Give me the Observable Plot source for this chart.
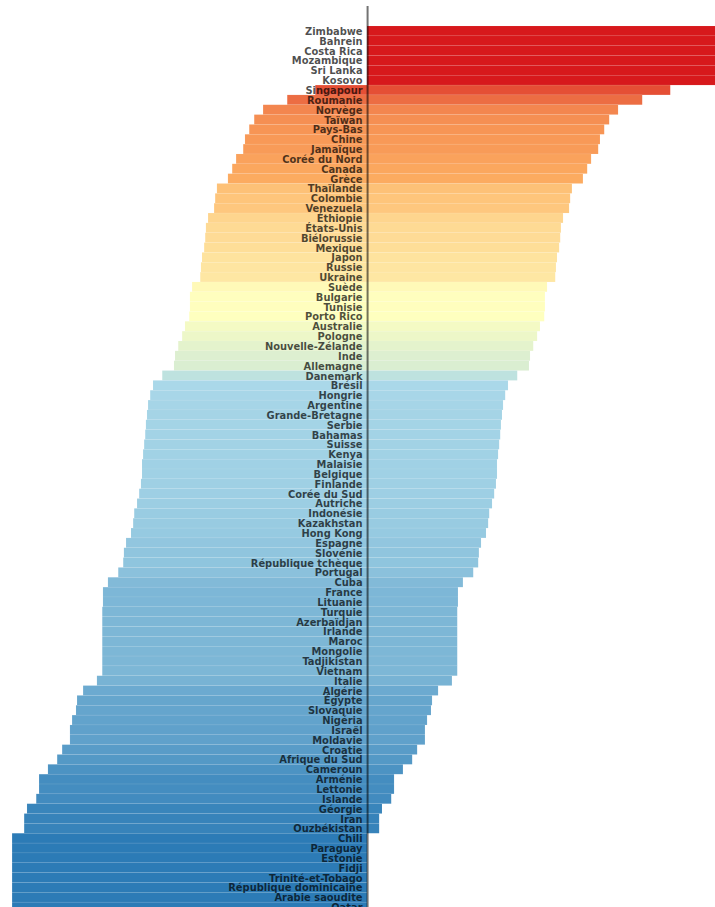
<!DOCTYPE html>
<html><head><meta charset="utf-8">
<script src="https://cdn.jsdelivr.net/npm/d3@7"></script>
<script src="https://cdn.jsdelivr.net/npm/@observablehq/plot@0.6"></script>
<style>body{margin:0;background:#fff;overflow:hidden} #chart svg{display:block}</style>
</head><body><div id="chart"></div>
<script>
const countries = ["Zimbabwe","Bahrein","Costa Rica","Mozambique","Sri Lanka","Kosovo","Singapour","Roumanie","Norvège","Taïwan","Pays-Bas","Chine","Jamaïque","Corée du Nord","Canada","Grèce","Thaïlande","Colombie","Venezuela","Éthiopie","États-Unis","Biélorussie","Mexique","Japon","Russie","Ukraine","Suède","Bulgarie","Tunisie","Porto Rico","Australie","Pologne","Nouvelle-Zélande","Inde","Allemagne","Danemark","Brésil","Hongrie","Argentine","Grande-Bretagne","Serbie","Bahamas","Suisse","Kenya","Malaisie","Belgique","Finlande","Corée du Sud","Autriche","Indonésie","Kazakhstan","Hong Kong","Espagne","Slovénie","République tchèque","Portugal","Cuba","France","Lituanie","Turquie","Azerbaïdjan","Irlande","Maroc","Mongolie","Tadjikistan","Vietnam","Italie","Algérie","Égypte","Slovaquie","Nigéria","Israël","Moldavie","Croatie","Afrique du Sud","Cameroun","Arménie","Lettonie","Islande","Géorgie","Iran","Ouzbékistan","Chili","Paraguay","Estonie","Fidji","Trinité-et-Tobago","République dominicaine","Arabie saoudite","Qatar"];
const scores = [100,100,100,100,100,100,85.4,77.5,70.7,68.2,66.8,65.6,65.1,63.1,62.0,60.8,57.7,57.2,56.9,55.2,54.6,54.4,54.1,53.5,53.2,53.0,50.7,50.1,50.1,49.9,48.7,47.9,46.8,45.9,45.6,42.3,39.7,38.9,38.3,38.0,37.7,37.5,37.2,36.9,36.6,36.6,36.3,35.8,35.2,34.4,34.1,33.5,32.1,31.5,31.3,29.9,27.0,25.6,25.6,25.4,25.4,25.4,25.4,25.4,25.4,25.4,23.9,20.0,18.3,18.0,16.9,16.3,16.3,14.1,12.7,10.1,7.6,7.6,6.8,4.2,3.4,3.4,0,0,0,0,0,0,0,0];
const colorStops = [0, 40, 50, 60, 100];
const colorRange = ["#2c7bb6", "#abd9e9", "#ffffbf", "#fdae61", "#d7191c"];

const data = countries.map((name, i) => ({name, score: scores[i]}));

const chart = Plot.plot({
  width: 715, height: 912,
  marginTop: 26, marginBottom: 0, marginLeft: 0, marginRight: 0,
  x: {domain: [-103.4, 98.0], axis: null},
  y: {domain: countries, axis: null, padding: 0},
  color: {type: "linear", domain: colorStops, range: colorRange, interpolate: "rgb"},
  marks: [
    Plot.barX(data, {y: "name", x1: d => d.score - 100, x2: "score", fill: "score",
      stroke: "white", strokeOpacity: 0.12, strokeWidth: 0.5, clip: "frame"}),
    Plot.ruleX([0], {stroke: "#000", strokeOpacity: 0.55, strokeWidth: 2, insetTop: -20}),
    Plot.text(data, {y: "name", x: 0, text: "name", textAnchor: "end", dx: -5, dy: 0,
      fill: "#000", fillOpacity: 0.7, fontWeight: "bold", fontSize: 11,
      fontFamily: "DejaVu Sans Condensed"})
  ]
});
document.getElementById("chart").appendChild(chart);
</script>
</body></html>
